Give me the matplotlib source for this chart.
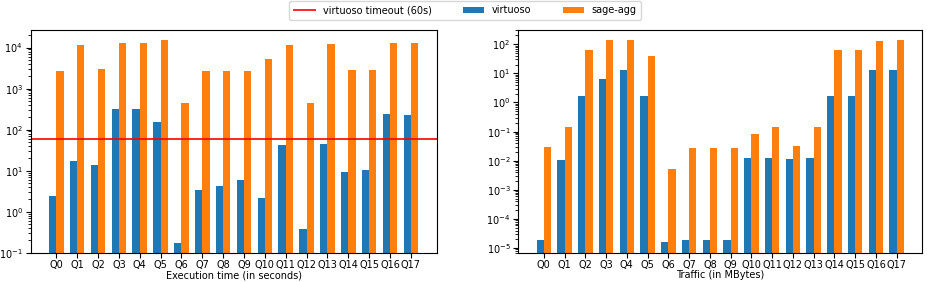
import matplotlib
matplotlib.use("Agg")
import matplotlib.pyplot as plt
import numpy as np

queries = ["Q%d" % i for i in range(18)]

time_virtuoso = [2.4, 17, 14, 310, 310, 157, 0.175, 3.4, 4.2, 5.8, 2.1, 43, 0.38, 45, 9.5, 10.2, 245, 232]
time_sage = [2650, 11800, 3000, 13000, 13000, 15700, 456, 2650, 2650, 2650, 5400, 11800, 438, 12300, 2850, 2850, 13000, 13000]

traffic_virtuoso = [1.84e-5, 0.0107, 1.73, 6.4, 12.6, 1.73, 1.6e-5, 1.84e-5, 1.84e-5, 1.84e-5,
                    0.0122, 0.0122, 0.0113, 0.0122, 1.73, 1.73, 12.6, 12.6]
traffic_sage = [0.029, 0.143, 64, 137, 137, 38, 0.00514, 0.0268, 0.0268, 0.0268,
                0.0805, 0.143, 0.032, 0.143, 64, 64, 130, 137]

time_ticks = [1e-1, 1e0, 1e1, 1e2, 1e3, 1e4]
traffic_ticks = [1e-5, 1e-4, 1e-3, 1e-2, 1e-1, 1e0, 1e1, 1e2]

timeout = 60

plt.rcParams['font.size'] = 7
fig = plt.figure(figsize=(9.27, 2.82), dpi=100)
ax1 = fig.add_axes([0.033, 0.104, 0.438, 0.790])
ax2 = fig.add_axes([0.559, 0.104, 0.436, 0.790])

x = np.arange(len(queries))
w = 0.35
blue = "#1f77b4"
orange = "#ff7f0e"

ax1.bar(x - w / 2, time_virtuoso, w, color=blue, label="virtuoso")
ax1.bar(x + w / 2, time_sage, w, color=orange, label="sage-agg")
ax1.set_yscale("log")
ax1.axhline(timeout, color="red", lw=1.4, alpha=0.85, label="virtuoso timeout (60s)")
ax1.set_yticks(time_ticks)
ax1.set_ylim(0.1, 2.7e4)
ax1.set_xticks(x)
ax1.set_xticklabels(queries)
ax1.set_xlabel("Execution time (in seconds)", labelpad=0, fontsize=7)

ax2.bar(x - w / 2, traffic_virtuoso, w, color=blue)
ax2.bar(x + w / 2, traffic_sage, w, color=orange)
ax2.set_yscale("log")
ax2.set_yticks(traffic_ticks)
ax2.set_ylim(7e-6, 310)
ax2.set_xticks(x)
ax2.set_xticklabels(queries)
ax2.set_xlabel("Traffic (in MBytes)", labelpad=0, fontsize=7)

for ax in (ax1, ax2):
    ax.tick_params(axis="both", labelsize=7, pad=2)

handles, labels = ax1.get_legend_handles_labels()
order = [labels.index("virtuoso timeout (60s)"), labels.index("virtuoso"), labels.index("sage-agg")]
fig.legend([handles[i] for i in order], [labels[i] for i in order], ncol=3,
           loc="upper center", bbox_to_anchor=(0.502, 1.0), fontsize=7,
           frameon=True, borderaxespad=0.1, columnspacing=3.2, handlelength=2.2,
           borderpad=0.45)

fig.savefig("out.png", dpi=100)
